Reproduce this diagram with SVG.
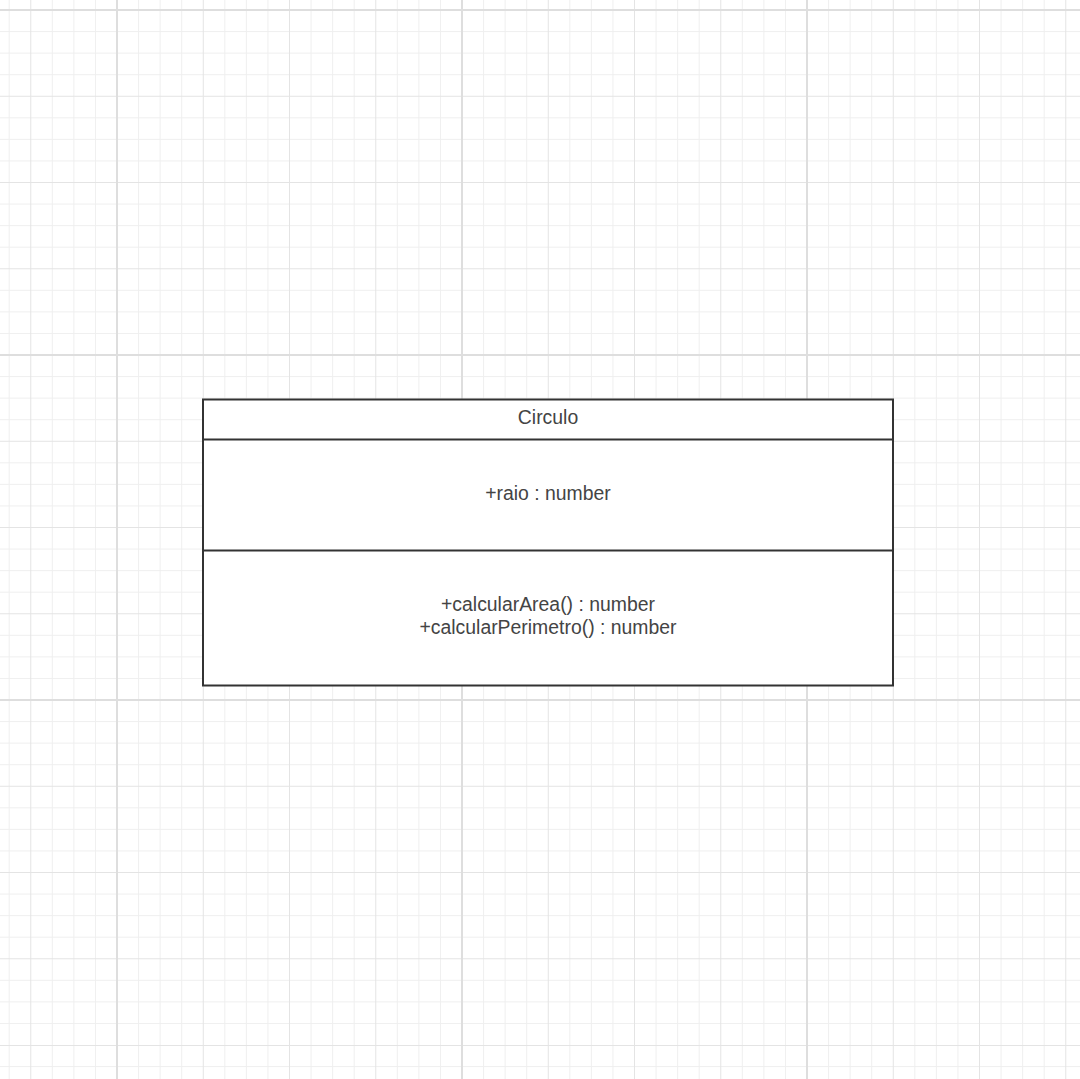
<svg xmlns="http://www.w3.org/2000/svg" width="1080" height="1079" viewBox="0 0 1080 1079">
  <defs>
    <pattern id="grid" patternUnits="userSpaceOnUse" x="117" y="10" width="345" height="345">
      <path d="M21.5625 0V345M43.125 0V345M64.6875 0V345M107.8125 0V345M129.375 0V345M150.9375 0V345M194.0625 0V345M215.625 0V345M237.1875 0V345M280.3125 0V345M301.875 0V345M323.4375 0V345M0 21.5625H345M0 43.125H345M0 64.6875H345M0 107.8125H345M0 129.375H345M0 150.9375H345M0 194.0625H345M0 215.625H345M0 237.1875H345M0 280.3125H345M0 301.875H345M0 323.4375H345" stroke="#efefef" stroke-width="1" fill="none"/>
      <path d="M86.25 0V345M172.5 0V345M258.75 0V345M0 0.5H345M0 86.25H345M0 172.5H345M0 258.75H345" stroke="#e4e4e4" stroke-width="1" fill="none"/>
      <path d="M0 0V345M345 0V345" stroke="#dedede" stroke-width="2" fill="none"/>
    </pattern>
    <style>
      .box { fill: #ffffff; stroke: #333333; stroke-width: 2; }
      .div { stroke: #333333; stroke-width: 2; fill: none; }
      .major { stroke: #dedede; stroke-width: 2; fill: none; }
      .t { font-family: "Liberation Sans", Arial, sans-serif; font-size: 19.4px; fill: #444444; text-anchor: middle; }
    </style>
  </defs>
  <rect width="1080" height="1079" fill="#ffffff"/>
  <rect width="1080" height="1079" fill="url(#grid)"/>
  <path class="major" d="M0 10H1080M0 355H1080M0 700H1080"/>
  <g id="node-circulo">
    <rect class="box" x="203" y="399.5" width="690" height="286"/>
    <line class="div" x1="203" y1="439.5" x2="893" y2="439.5"/>
    <line class="div" x1="203" y1="550.5" x2="893" y2="550.5"/>
    <text class="t" x="548" y="424">Circulo</text>
    <text class="t" x="548" y="500">+raio : number</text>
    <text class="t" x="548" y="611">+calcularArea() : number</text>
    <text class="t" x="548" y="634">+calcularPerimetro() : number</text>
  </g>
  <g id="connectors"/>
</svg>
